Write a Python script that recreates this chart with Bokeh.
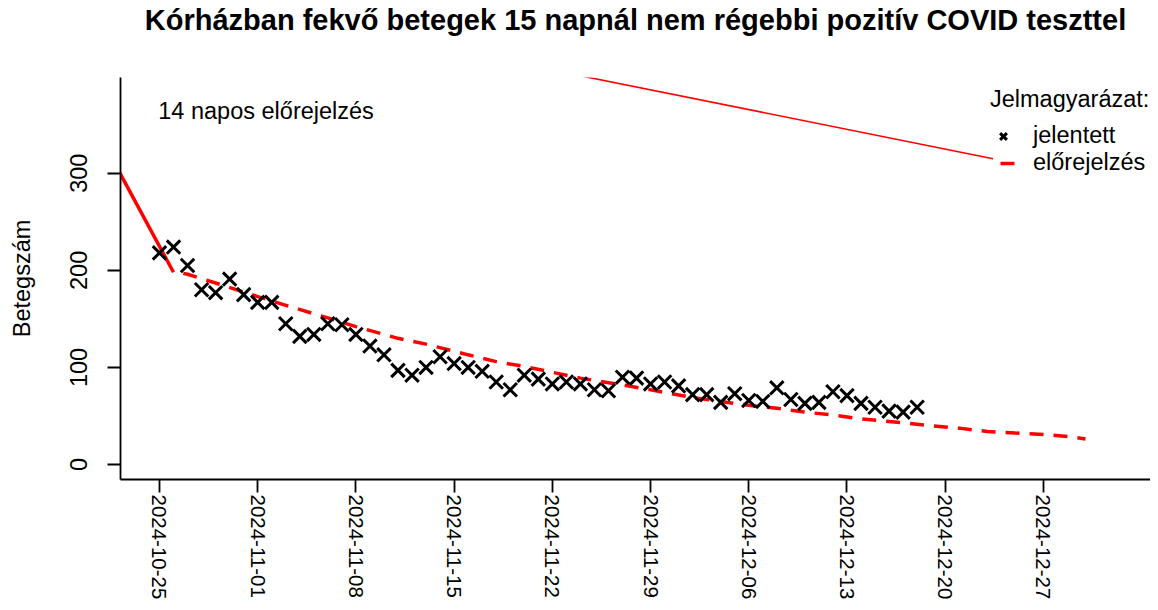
import pandas as pd
from bokeh.plotting import figure
from bokeh.models import (Range1d, FixedTicker, DatetimeTickFormatter, Legend,
                          LegendItem, Label, ColumnDataSource, Title)
from bokeh.embed import file_html
from bokeh.resources import INLINE

# ---------------- data ----------------
report_start = "2024-10-25"
reported = [218, 224, 205, 180, 177, 191, 175,
            167, 167, 145, 132, 134, 145, 144, 134, 122, 113, 97, 92, 100, 111,
            104, 100, 96, 85, 77, 92, 88, 83, 85, 83, 77, 76, 90, 89, 83, 85,
            81, 72, 72, 64, 73, 66, 65, 79, 67, 63, 64, 75, 71, 63, 59, 55, 54, 59]
report_dates = pd.date_range(report_start, periods=len(reported), freq="D")

forecast_dates = ["2024-10-26", "2024-10-27", "2024-10-29", "2024-11-01", "2024-11-03",
                  "2024-11-06", "2024-11-08", "2024-11-11", "2024-11-13", "2024-11-16",
                  "2024-11-18", "2024-11-20", "2024-11-22", "2024-11-24", "2024-11-27",
                  "2024-11-29", "2024-12-02", "2024-12-04", "2024-12-06", "2024-12-08",
                  "2024-12-10", "2024-12-12", "2024-12-14", "2024-12-17", "2024-12-19",
                  "2024-12-21", "2024-12-23", "2024-12-25", "2024-12-27", "2024-12-29",
                  "2024-12-30"]
forecast_vals = [199, 196, 187, 173, 164,
                 151, 142, 130, 124, 113,
                 106, 101, 95, 89, 82,
                 77, 69, 65, 61, 58,
                 54, 51, 47, 43, 40,
                 37.5, 34, 32.4, 31, 28.5,
                 26.4]

prev_dates = ["2024-10-22 00:00", "2024-10-26 00:00"]
prev_vals = [305, 198]

thin_dates = ["2024-11-20 00:00", "2024-12-23 10:00"]
thin_vals = [412, 315]

tick_labels = ["2024-10-25", "2024-11-01", "2024-11-08", "2024-11-15", "2024-11-22",
               "2024-11-29", "2024-12-06", "2024-12-13", "2024-12-20", "2024-12-27"]
y_ticks = [0, 100, 200, 300]

title_text = "Kórházban fekvő betegek 15 napnál nem régebbi pozitív COVID teszttel"
y_label = "Betegszám"
note_text = "14 napos előrejelzés"
legend_title = "Jelmagyarázat:"
legend_labels = ["jelentett", "előrejelzés"]

# ---------------- figure ----------------
FONT = "Liberation Sans"
x_start = pd.Timestamp("2024-10-22 05:20")
x_end = pd.Timestamp("2025-01-03 15:10")

p = figure(width=1150, height=602, x_axis_type="datetime",
           x_range=Range1d(x_start, x_end), y_range=Range1d(-15.4, 398.6),
           output_backend="svg", toolbar_location=None,
           min_border_left=120, min_border_right=0,
           min_border_top=77, min_border_bottom=122)

p.title.text = title_text
p.title.align = "center"
p.title.vertical_align = "top"
p.title.standoff = 0
p.title.text_font = FONT
p.title.text_font_size = "29px"
p.title.text_font_style = "bold"
p.title.text_color = "black"

# spacer between the title and the plot frame
p.add_layout(Title(text=" ", text_font_size="20px", standoff=16), "above")

p.grid.visible = False
p.outline_line_color = None
p.background_fill_color = "white"
p.border_fill_color = "white"

# x axis
tick_ms = [int(pd.Timestamp(t).value // 10**6) for t in tick_labels]
p.xaxis.ticker = FixedTicker(ticks=tick_ms)
fmt = "%Y-%m-%d"
p.xaxis.formatter = DatetimeTickFormatter(milliseconds=fmt, seconds=fmt, minsec=fmt,
                                          minutes=fmt, hourmin=fmt, hours=fmt,
                                          days=fmt, months=fmt, years=fmt)
p.xaxis.major_label_orientation = "vertical"
p.xaxis.major_label_text_font = FONT
p.xaxis.major_label_text_font_size = "20.5px"
p.xaxis.major_label_standoff = 2
p.xaxis.major_tick_out = 13
p.xaxis.major_tick_in = 0
p.xaxis.minor_tick_line_color = None

# y axis
p.yaxis.ticker = FixedTicker(ticks=y_ticks)
p.yaxis.major_label_orientation = "vertical"
p.yaxis.major_label_text_font = FONT
p.yaxis.major_label_text_font_size = "23.5px"
p.yaxis.major_label_standoff = 20
p.yaxis.major_tick_out = 13
p.yaxis.major_tick_in = 0
p.yaxis.minor_tick_line_color = None
p.yaxis.axis_label = y_label
p.yaxis.axis_label_text_font = FONT
p.yaxis.axis_label_text_font_size = "23.5px"
p.yaxis.axis_label_text_font_style = "normal"
p.yaxis.axis_label_standoff = 33

for ax in (p.xaxis, p.yaxis):
    ax.axis_line_width = 1.8
    ax.major_tick_line_width = 1.8
    ax.axis_line_color = "black"
    ax.major_tick_line_color = "black"
    ax.major_label_text_color = "black"
    ax.axis_label_text_color = "black"

# ---------------- glyphs ----------------
src_rep = ColumnDataSource(dict(x=report_dates, y=reported))
src_fc = ColumnDataSource(dict(x=pd.to_datetime(forecast_dates), y=forecast_vals))
src_prev = ColumnDataSource(dict(x=pd.to_datetime(prev_dates), y=prev_vals))
src_thin = ColumnDataSource(dict(x=pd.to_datetime(thin_dates), y=thin_vals))

p.line("x", "y", source=src_prev, line_color="red", line_width=3.5)
p.line("x", "y", source=src_thin, line_color="red", line_width=1.6)
r_fc = p.line("x", "y", source=src_fc, line_color="red", line_width=3.5,
              line_dash="14 10", line_dash_offset=14)
r_rep = p.scatter("x", "y", source=src_rep, marker="x", size=19,
                  line_color="black", line_width=3)

note = Label(x=pd.Timestamp("2024-10-24 22:00"), y=364.5, text=note_text,
             text_font=FONT, text_font_size="23.5px", text_baseline="middle",
             text_color="black")
p.add_layout(note)

legend = Legend(items=[LegendItem(label=legend_labels[0], renderers=[r_rep]),
                       LegendItem(label=legend_labels[1], renderers=[r_fc])],
                location=(870, 303), title=legend_title,
                title_text_font=FONT, title_text_font_size="23.5px",
                title_text_font_style="normal", title_standoff=9,
                title_text_color="black",
                label_text_font=FONT, label_text_font_size="23.5px",
                label_text_color="black",
                label_standoff=17, glyph_width=26, glyph_height=24,
                label_height=24, spacing=0, padding=0, margin=0,
                border_line_color=None, background_fill_alpha=0)
p.add_layout(legend)

open("out.html", "w").write(file_html(p, INLINE))
